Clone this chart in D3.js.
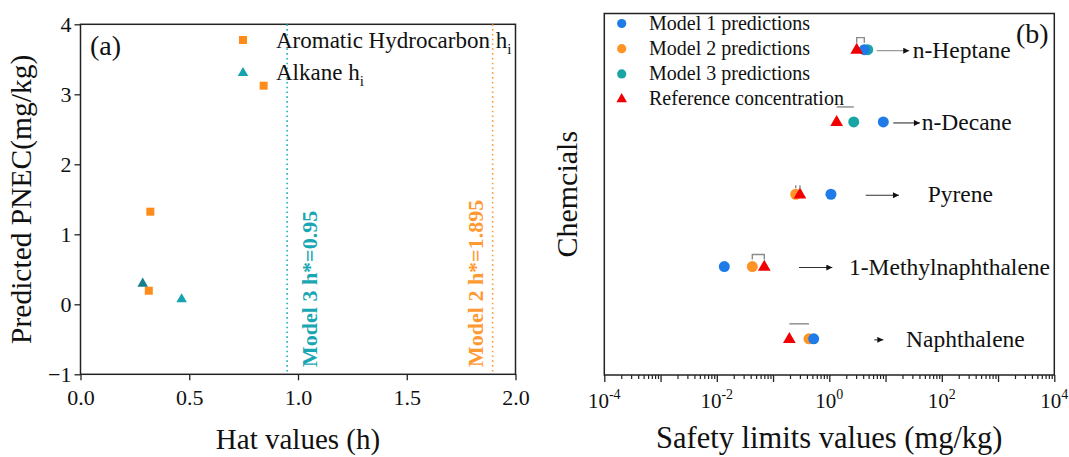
<!DOCTYPE html>
<html><head><meta charset="utf-8">
<script src="https://cdn.jsdelivr.net/npm/d3@7"></script>
<style>
html,body{margin:0;padding:0;background:#fff;}
svg{display:block;font-family:"Liberation Serif","Times New Roman",serif;}
</style></head>
<body><svg id="c" width="1069" height="457"></svg>
<script>
// ---------- Panel (a) data ----------
const aroHat  = [0.842, 0.321, 0.314];
const aroPnec = [3.123, 1.323, 0.194];
const alkHat  = [0.286, 0.465];
const alkPnec = [0.309, 0.086];
const thresholdNames = ["Model 3 h*=0.95", "Model 2 h*=1.895"];
const thresholdValues = [0.95, 1.895];
const aXTicks = [0, 0.5, 1.0, 1.5, 2.0];
const aYTicks = [-1, 0, 1, 2, 3, 4];

// ---------- Panel (b) data ----------
const chemicals = ["n-Heptane", "n-Decane", "Pyrene", "1-Methylnaphthalene", "Naphthalene"];
const model1 = [4.19, 9.12, 1.07, 0.0136, 0.528];
const model2 = [null, null, 0.253, 0.0428, 0.435];
const model3 = [4.82, 2.72, null, null, null];
const reference = [3.07, 1.35, 0.301, 0.0698, 0.195];
// annotation arrows / labels (in mg/kg units)
const arrowFrom = [6.96, 13.7, 4.44, 0.289, 6.31];
const arrowTo   = [26.4, 40.9, 17.3, 1.13, 9.12];
const labelAt   = [30.4, 44.0, 56.1, 2.24, 23.1];
const bXTickExps = [-4, -2, 0, 2, 4];

// styling of the small gray markers above each row
const bracketKind = ["bracket", "line", "ticks", "bracket", "line"];
const bracketRise = [12, 15, 9, 12, 15];

const svg = d3.select("#c");
const C = {blue:"#1f7be8", orange:"#ff9326", teal:"#1aa5a5", red:"#f00000",
           aOrange:"#ff8c1a", aTeal:"#17a3ad", lineTeal:"#1ab0bd", txtTeal:"#19a7b3", txtOrange:"#ff9a33"};

// ================= Panel (a) =================
const A = {l:80.5, r:515.5, t:24.3, b:374.3};
const xa = d3.scaleLinear().domain([0,2]).range([A.l, A.r]);
const ya = d3.scaleLinear().domain([-1,4]).range([A.b, A.t]);
const ga = svg.append("g");

ga.append("g").attr("transform",`translate(0,${A.b})`)
  .call(d3.axisBottom(xa).tickValues(aXTicks).tickFormat(d3.format(".1f")).tickSize(6).tickSizeOuter(0))
  .call(g=>{g.select(".domain").remove();
    g.selectAll("line").attr("stroke","#222").attr("stroke-width",1.3);
    g.selectAll("text").attr("font-family","Liberation Serif").attr("font-size",22).attr("fill","#111").attr("dy",null).attr("y",31);});
ga.append("g").attr("transform",`translate(${A.l},0)`)
  .call(d3.axisLeft(ya).tickValues(aYTicks).tickFormat(d3.format("d")).tickSize(6).tickSizeOuter(0))
  .call(g=>{g.select(".domain").remove();
    g.selectAll("line").attr("stroke","#222").attr("stroke-width",1.3);
    g.selectAll("text").attr("font-family","Liberation Serif").attr("font-size",22).attr("fill","#111").attr("x",-9).attr("dy","0.34em");});
ga.append("rect").attr("x",A.l).attr("y",A.t).attr("width",A.r-A.l).attr("height",A.b-A.t)
  .attr("fill","none").attr("stroke","#222").attr("stroke-width",1.5);

// threshold lines
const thrColors = [C.lineTeal, "#ff9a3c"];
const thrText = [C.txtTeal, C.txtOrange];
thresholdValues.forEach((v,i)=>{
  ga.append("line").attr("x1",xa(v)).attr("x2",xa(v)).attr("y1",A.t).attr("y2",A.b)
    .attr("stroke",thrColors[i]).attr("stroke-width",1.6).attr("stroke-dasharray","1.6,3.2");
  const tx = i===0 ? xa(v)+30 : xa(v)-10;
  ga.append("text").attr("transform",`translate(${tx},367) rotate(-90)`)
    .attr("font-size",22).attr("font-weight","bold").attr("fill",thrText[i]).text(thresholdNames[i]);
});

// points
const sq = 8;
ga.selectAll("rect.aro").data(aroHat).join("rect").attr("class","aro")
  .attr("x",(d,i)=>xa(d)-sq/2).attr("y",(d,i)=>ya(aroPnec[i])-sq/2).attr("width",sq).attr("height",sq).attr("fill",C.aOrange);
const triA = d3.symbol().type(d3.symbolTriangle).size(48);
ga.selectAll("path.alk").data(alkHat).join("path").attr("class","alk")
  .attr("transform",(d,i)=>`translate(${xa(d)},${ya(alkPnec[i])+1})`).attr("d",triA)
  .attr("fill",(d,i)=>i===0?"#157f8c":C.aTeal);

// legend (a)
ga.append("rect").attr("x",243-4).attr("y",40-4).attr("width",8).attr("height",8).attr("fill",C.aOrange);
ga.append("path").attr("transform","translate(243,73)").attr("d",triA).attr("fill",C.aTeal);
const la1 = ga.append("text").attr("x",276).attr("y",48).attr("font-size",23).attr("fill","#111");
la1.append("tspan").text("Aromatic Hydrocarbon h");
la1.append("tspan").attr("font-size",15).attr("dy",6).text("i");
const la2 = ga.append("text").attr("x",276).attr("y",80).attr("font-size",23).attr("fill","#111");
la2.append("tspan").text("Alkane h");
la2.append("tspan").attr("font-size",15).attr("dy",6).text("i");

ga.append("text").attr("x",90).attr("y",55).attr("font-size",28).attr("fill","#111").text("(a)");
ga.append("text").attr("x",(A.l+A.r)/2).attr("y",449).attr("text-anchor","middle").attr("font-size",29).attr("fill","#111").text("Hat values (h)");
ga.append("text").attr("transform",`translate(31,${(A.t+A.b)/2}) rotate(-90)`).attr("text-anchor","middle")
  .attr("font-size",29.5).attr("fill","#111").text("Predicted PNEC(mg/kg)");

// ================= Panel (b) =================
const B = {l:604.3, r:1054.3, t:13.5, b:375};
const xb = d3.scaleLog().domain([1e-4,1e4]).range([B.l, B.r]);
const yb = d3.scalePoint().domain(chemicals).range([B.t, B.b]).padding(0.5);
const gb = svg.append("g");

const minorT = [], majorT = [];
for (let k=-4;k<4;k++){ majorT.push(Math.pow(10,k)); for(let m=2;m<=9;m++) minorT.push(m*Math.pow(10,k)); }
majorT.push(1e4);
gb.append("g").attr("transform",`translate(0,${B.b})`)
  .call(d3.axisBottom(xb).tickValues(minorT).tickFormat("").tickSize(4).tickSizeOuter(0))
  .call(g=>{g.select(".domain").remove(); g.selectAll("line").attr("stroke","#222").attr("stroke-width",1.2);});
gb.append("g").attr("transform",`translate(0,${B.b})`)
  .call(d3.axisBottom(xb).tickValues(majorT).tickFormat("").tickSize(7).tickSizeOuter(0))
  .call(g=>{g.select(".domain").remove(); g.selectAll("line").attr("stroke","#222").attr("stroke-width",1.3);});
bXTickExps.forEach(e=>{
  const t = gb.append("text").attr("x",xb(Math.pow(10,e))).attr("y",408).attr("text-anchor","middle")
    .attr("font-size",21).attr("fill","#111");
  t.append("tspan").text("10");
  t.append("tspan").attr("font-size",14).attr("dy",-9).text(String(e));
});
gb.append("rect").attr("x",B.l).attr("y",B.t).attr("width",B.r-B.l).attr("height",B.b-B.t)
  .attr("fill","none").attr("stroke","#222").attr("stroke-width",1.5);

// gray markers: reference to nearest prediction
chemicals.forEach((c,i)=>{
  const preds = [model1[i],model2[i],model3[i]].filter(v=>v!=null);
  let near = preds[0];
  preds.forEach(v=>{ if (Math.abs(Math.log10(v)-Math.log10(reference[i])) < Math.abs(Math.log10(near)-Math.log10(reference[i]))) near=v; });
  const x1 = xb(Math.min(near,reference[i])), x2 = xb(Math.max(near,reference[i]));
  const yy = yb(c) - bracketRise[i];
  let d;
  if (bracketKind[i]==="bracket") d = `M${x1},${yy+5}V${yy}H${x2}V${yy+5}`;
  else if (bracketKind[i]==="line") d = `M${x1},${yy}H${x2}`;
  else d = `M${x1},${yy}v3M${x2},${yy}v3`;
  gb.append("path").attr("d",d).attr("fill","none").attr("stroke","#8a8a8a").attr("stroke-width",1.4);
});

// arrows
const defs = svg.append("defs");
defs.append("marker").attr("id","ah").attr("viewBox","0 0 10 10").attr("refX",10).attr("refY",5)
  .attr("markerWidth",9).attr("markerHeight",6).attr("markerUnits","userSpaceOnUse").attr("orient","auto")
  .append("path").attr("d","M0,0L10,5L0,10Z").attr("fill","#111");
chemicals.forEach((c,i)=>{
  gb.append("line").attr("x1",xb(arrowFrom[i])).attr("x2",xb(arrowTo[i])).attr("y1",yb(c)+1).attr("y2",yb(c)+1)
    .attr("stroke",i===0?"#9a9a9a":"#333").attr("stroke-width",1.1).attr("marker-end","url(#ah)");
  gb.append("text").attr("x",xb(labelAt[i])).attr("y",yb(c)+8).attr("font-size",23.5).attr("fill","#111").text(c);
});

// points
const circ = (vals,color)=>gb.append("g").selectAll("circle").data(chemicals.filter((c,i)=>vals[i]!=null))
  .join("circle").attr("cx",c=>xb(vals[chemicals.indexOf(c)])).attr("cy",c=>yb(c)).attr("r",5.5).attr("fill",color);
circ(model2,C.orange);
circ(model3,C.teal);
circ(model1,C.blue);
const triB = d3.symbol().type(d3.symbolTriangle).size(70);
gb.append("g").selectAll("path").data(chemicals).join("path")
  .attr("transform",(c,i)=>`translate(${xb(reference[i])},${yb(c)+0.5})`).attr("d",triB).attr("fill",C.red);

// legend (b)
const legItems = [["Model 1 predictions",C.blue,"c"],["Model 2 predictions",C.orange,"c"],["Model 3 predictions",C.teal,"c"],["Reference concentration",C.red,"t"]];
const triL = d3.symbol().type(d3.symbolTriangle).size(48);
legItems.forEach((d,i)=>{
  const y = 23.5 + i*25.2;
  if (d[2]==="c") gb.append("circle").attr("cx",621.7).attr("cy",y).attr("r",4.6).attr("fill",d[1]);
  else gb.append("path").attr("transform",`translate(621.7,${y})`).attr("d",triL).attr("fill",d[1]);
  gb.append("text").attr("x",649).attr("y",y+6).attr("font-size",20).attr("fill","#111").text(d[0]);
});

gb.append("text").attr("x",1016).attr("y",43).attr("font-size",28).attr("fill","#111").text("(b)");
gb.append("text").attr("x",(B.l+B.r)/2).attr("y",448).attr("text-anchor","middle").attr("font-size",30.5).attr("fill","#111").text("Safety limits values (mg/kg)");
gb.append("text").attr("transform",`translate(577,${(B.t+B.b)/2}) rotate(-90)`).attr("text-anchor","middle")
  .attr("font-size",30).attr("fill","#111").text("Chemcials");
</script></body></html>
